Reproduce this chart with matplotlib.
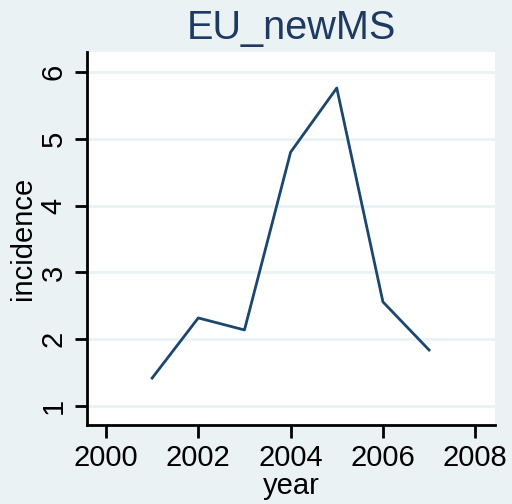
import matplotlib
matplotlib.use("Agg")
import matplotlib.pyplot as plt

years = [2001, 2002, 2003, 2004, 2005, 2006, 2007]
incidence = [1.42, 2.32, 2.14, 4.80, 5.76, 2.56, 1.84]
xticks = [2000, 2002, 2004, 2006, 2008]
yticks = [1, 2, 3, 4, 5, 6]

plt.rcParams['font.family'] = ['Liberation Sans', 'DejaVu Sans']
bg = '#EAF2F3'

fig = plt.figure(figsize=(5.12, 5.04), dpi=100, facecolor=bg)
ax = fig.add_axes([0.170, 0.157, 0.797, 0.740])
ax.set_facecolor('white')

ax.plot(years, incidence, color='#1A476F', lw=2)

ax.set_xlim(1999.59, 2008.43)
ax.set_ylim(0.72, 6.30)
ax.set_xticks(xticks)
ax.set_yticks(yticks)
ax.grid(axis='y', color=bg, lw=2)
ax.set_axisbelow(True)

for s in ['top', 'right']:
    ax.spines[s].set_visible(False)
for s in ['left', 'bottom']:
    ax.spines[s].set_linewidth(2)

ax.tick_params(direction='out', length=9, width=2, labelsize=21, pad=5)
for lab in ax.get_yticklabels():
    lab.set_rotation(90)
    lab.set_va('center')

ax.set_xlabel('year', fontsize=21, labelpad=0)
ax.set_ylabel('incidence', fontsize=21, labelpad=2)
ax.set_title('EU_newMS', fontsize=28.5, color='#1E3A60', pad=9)

fig.savefig('out.png', dpi=100, facecolor=bg)
